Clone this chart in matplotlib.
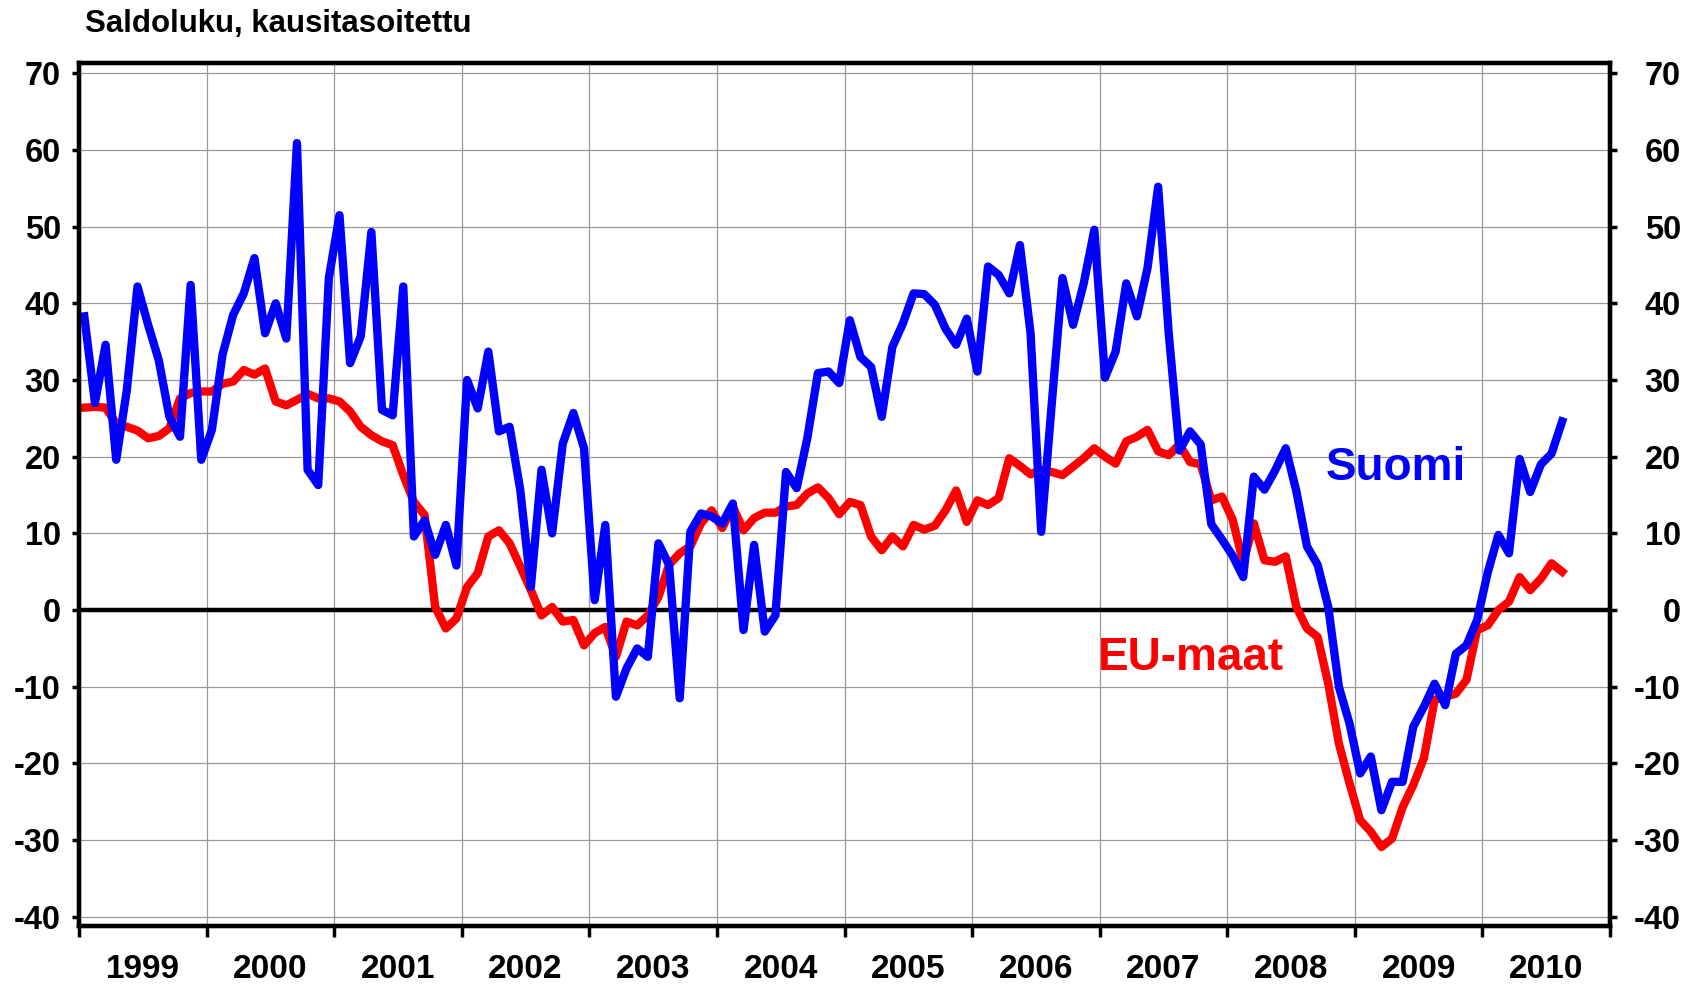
import numpy as np
import matplotlib
matplotlib.use("Agg")
import matplotlib.pyplot as plt

plt.rcParams['font.family'] = ['Liberation Sans', 'DejaVu Sans']
plt.rcParams['axes.unicode_minus'] = False

# monthly balance figures, Jan 1999 .. Aug 2010
suomi = [38.3, 27.0, 34.6, 19.6, 28.7, 42.2, 37.2, 32.6, 25.2, 22.6, 42.4, 19.6,
         23.5, 33.3, 38.5, 41.3, 45.9, 36.1, 40.0, 35.4, 60.9, 18.3, 16.3, 43.3,
         51.5, 32.2, 35.7, 49.3, 26.1, 25.4, 42.2, 9.6, 11.7, 7.2, 11.1, 5.8,
         30.0, 26.3, 33.7, 23.3, 23.9, 15.7, 3.0, 18.3, 10.0, 21.7, 25.7, 21.1,
         1.3, 11.1, -11.3, -7.6, -5.0, -6.1, 8.7, 5.9, -11.5, 10.2, 12.6, 12.2,
         11.3, 13.9, -2.6, 8.5, -2.8, -0.7, 18.0, 15.9, 22.4, 30.9, 31.1, 29.6,
         37.8, 33.0, 31.7, 25.2, 34.3, 37.4, 41.3, 41.2, 39.8, 36.7, 34.6, 38.0,
         31.1, 44.8, 43.7, 41.3, 47.6, 36.1, 10.2, 27.0, 43.3, 37.2, 42.6, 49.6,
         30.3, 33.7, 42.6, 38.3, 44.6, 55.2, 36.0, 20.8, 23.3, 21.6, 11.2, 9.2,
         7.1, 4.3, 17.4, 15.7, 18.2, 21.1, 15.5, 8.3, 5.9, 0.4, -10.0, -14.8,
         -21.3, -19.1, -26.1, -22.4, -22.4, -15.2, -12.6, -9.6, -12.4, -5.7, -4.6, -1.3,
         4.9, 9.8, 7.4, 19.7, 15.4, 19.0, 20.4, 24.6]

eu_maat = [26.4, 26.5, 26.4, 24.3, 23.9, 23.4, 22.4, 22.7, 23.7, 27.6, 28.3, 28.5,
           28.5, 29.5, 29.8, 31.3, 30.7, 31.5, 27.2, 26.7, 27.4, 28.2, 27.6, 27.6,
           27.2, 25.9, 23.9, 22.8, 22.0, 21.5, 17.6, 14.1, 12.4, 0.4, -2.4, -1.1,
           3.0, 4.8, 9.6, 10.4, 8.7, 5.7, 2.6, -0.7, 0.4, -1.5, -1.3, -4.6,
           -3.0, -2.2, -6.1, -1.5, -2.0, -0.7, 1.7, 5.9, 7.4, 8.3, 11.3, 13.0,
           10.7, 13.5, 10.4, 12.0, 12.7, 12.7, 13.5, 13.7, 15.2, 16.0, 14.6, 12.5,
           14.1, 13.7, 9.6, 7.8, 9.6, 8.3, 11.1, 10.5, 11.0, 13.0, 15.6, 11.5,
           14.3, 13.7, 14.6, 19.8, 18.8, 17.7, 18.3, 18.0, 17.6, 18.7, 19.8, 21.1,
           20.0, 19.1, 22.0, 22.6, 23.5, 20.7, 20.2, 21.6, 19.3, 19.0, 14.3, 14.8,
           11.8, 6.2, 11.3, 6.5, 6.3, 7.0, 0.4, -2.4, -3.5, -9.6, -17.4, -22.6,
           -27.4, -28.9, -30.9, -29.8, -25.7, -22.8, -19.3, -11.7, -11.3, -10.9, -9.1, -2.6,
           -2.0, 0.0, 1.1, 4.3, 2.6, 4.1, 6.1, 5.0]

years = list(range(1999, 2011))
y_ticks = list(range(-40, 71, 10))

# x positions: month centres, counted in months from Jan 1999
x = np.arange(len(suomi)) + 0.5

fig = plt.figure(figsize=(16.94, 9.84), dpi=100)
ax = fig.add_axes([79 / 1694, 1 - 926 / 984, (1610 - 79) / 1694, (926 - 63.3) / 984])

ax.plot(x, eu_maat, color='#FF0000', lw=6.0, solid_joinstyle='round', zorder=3)
ax.plot(x, suomi, color='#0000FF', lw=6.0, solid_joinstyle='round', zorder=4)
ax.axhline(0, color='black', lw=3.2, zorder=2)

ax.set_xlim(0, 12 * len(years))
ax.set_ylim(-41.2, 71.3)

# year boundaries as major ticks, year names on the minor ticks
ax.set_xticks([12 * i for i in range(len(years) + 1)])
ax.set_xticklabels([])
ax.set_xticks([12 * i + 6 for i in range(len(years))], minor=True)
ax.set_xticklabels([str(yr) for yr in years], minor=True)
ax.tick_params(axis='x', which='major', direction='out', length=8, width=2.5)
ax.tick_params(axis='x', which='minor', length=0, pad=20, labelsize=24)

ax.set_yticks(y_ticks)
ax.tick_params(axis='y', direction='out', length=5, width=2.5, pad=8, labelsize=23.5)

for lab in ax.get_xticklabels(minor=True) + ax.get_yticklabels():
    lab.set_fontweight('bold')

ax.grid(True, which='major', color='#999999', lw=0.9)
ax.set_axisbelow(True)
for sp in ax.spines.values():
    sp.set_linewidth(3.1)
    sp.set_zorder(5)

# right-hand scale, labels right-aligned like the original
ax2 = ax.twinx()
ax2.set_ylim(ax.get_ylim())
ax2.set_yticks(y_ticks)
ax2.tick_params(axis='y', direction='out', length=5, width=2.5, pad=46, labelsize=23.5)
for lab in ax2.get_yticklabels():
    lab.set_fontweight('bold')
    lab.set_horizontalalignment('right')
for sp in ax2.spines.values():
    sp.set_linewidth(3.1)

ax.text(117.3, 17.0, 'Suomi', color='#0000FF', fontsize=33, fontweight='bold',
        ha='left', va='baseline', zorder=6)
ax.text(95.8, -7.8, 'EU-maat', color='#FF0000', fontsize=33, fontweight='bold',
        ha='left', va='baseline', zorder=6)

fig.text(85 / 1694, 1 - 31.7 / 984, 'Saldoluku, kausitasoitettu', fontsize=22.5,
         fontweight='bold', ha='left', va='baseline')

fig.savefig('out.png', dpi=100)
